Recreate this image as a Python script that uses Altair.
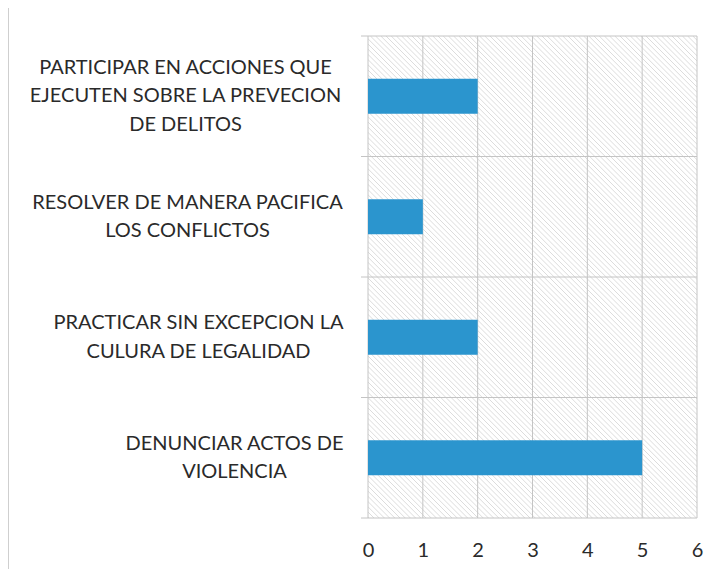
import json
import altair as alt
import pandas as pd

# ---- data ----
label_lines = [
    ["PARTICIPAR EN ACCIONES QUE", "EJECUTEN SOBRE LA PREVECION", "DE DELITOS"],
    ["RESOLVER DE MANERA PACIFICA", "LOS CONFLICTOS"],
    ["PRACTICAR SIN EXCEPCION LA", "CULURA DE LEGALIDAD"],
    ["DENUNCIAR ACTOS DE", "VIOLENCIA"],
]
values = [2, 1, 2, 5]
x_ticks = [0, 1, 2, 3, 4, 5, 6]

categories = ["\n".join(l) for l in label_lines]
df = pd.DataFrame({"cat": categories, "val": values})
ticks_df = pd.DataFrame({"t": x_ticks})

# ---- layout / style ----
W, H = 329, 482
PAD_L, PAD_T, PAD_R, PAD_B = 360, 28, 14, 51
FONT = "Lato"
FS = 20
LH = 28.5
TXT = "#2a2a2a"
GRID = "#c4c4c4"
HATCH = "#d3d3d3"
BAR = "#2B95CE"

# distance from axis to the centre of each label block
label_centre = [183, 181, 170, 134]

xscale = alt.Scale(domain=[0, 6], nice=False, zero=True)
yscale = alt.Scale(paddingInner=0, paddingOuter=0)

label_padding = {
    "condition": [
        {"test": f"datum.value == {json.dumps(c)}", "value": d}
        for c, d in zip(categories, label_centre)
    ],
    "value": 150,
}
label_offset = {
    "condition": [
        {"test": f"datum.value == {json.dumps(c)}", "value": -(len(l) - 1) * LH / 2}
        for c, l in zip(categories, label_lines)
    ],
    "value": 0,
}

y_axis = alt.Axis(
    title=None,
    domain=False,
    ticks=False,
    tickSize=0,
    grid=False,
    labelFont=FONT,
    labelFontSize=FS,
    labelColor=TXT,
    labelAlign="center",
    labelBaseline="middle",
    labelLineHeight=LH,
    labelLimit=0,
    labelPadding=label_padding,
    labelOffset=label_offset,
    labelExpr="split(datum.label, '\\n')",
)

x_axis = alt.Axis(
    title=None,
    values=x_ticks,
    domain=False,
    ticks=False,
    tickSize=0,
    grid=False,
    labelFont=FONT,
    labelFontSize=FS,
    labelColor=TXT,
    labelPadding=22,
    labelFlush=False,
)

unit = 6 / W  # data units per pixel
step = 5.2 * unit

hatch = (
    alt.Chart(alt.sequence(start=-(H + 20) * unit, stop=6 + 20 * unit, step=step, as_="h"))
    .transform_calculate(h2=f"datum.h + {H * unit}")
    .mark_rule(color=HATCH, strokeWidth=0.8, clip=True)
    .encode(
        x=alt.X("h:Q", scale=xscale, axis=x_axis),
        x2="h2:Q",
        y=alt.value(0),
        y2=alt.value(H),
    )
)

vgrid = (
    alt.Chart(ticks_df)
    .mark_rule(color=GRID, strokeWidth=1)
    .encode(
        x=alt.X("t:Q", scale=xscale, axis=x_axis),
        y=alt.value(0),
        y2=alt.value(H),
    )
)

hsep = (
    alt.Chart(df)
    .mark_rule(color=GRID, strokeWidth=1)
    .encode(
        y=alt.Y("cat:N", sort=categories, scale=yscale, bandPosition=0, axis=y_axis),
        x=alt.value(-7),
        x2=alt.value(W),
    )
)

bottom = (
    alt.Chart(pd.DataFrame({"a": [0]}))
    .mark_rule(color=GRID, strokeWidth=1)
    .encode(y=alt.value(H), x=alt.value(-7), x2=alt.value(W))
)

# thin frame line on the left edge of the chart area
frame = (
    alt.Chart(pd.DataFrame({"a": [0]}))
    .mark_rule(color="#cfcfcf", strokeWidth=1)
    .encode(x=alt.value(-PAD_L + 0.5), y=alt.value(-PAD_T), y2=alt.value(H + PAD_B))
)

bars = (
    alt.Chart(df)
    .mark_bar(color=BAR, height={"band": 0.29})
    .encode(
        x=alt.X("val:Q", scale=xscale, axis=x_axis),
        y=alt.Y("cat:N", sort=categories, scale=yscale, axis=y_axis),
    )
)

chart = (
    alt.layer(hatch, vgrid, hsep, bottom, frame, bars)
    .properties(
        width=W,
        height=H,
        autosize=alt.AutoSizeParams(type="none"),
        padding={"left": PAD_L, "top": PAD_T, "right": PAD_R, "bottom": PAD_B},
        background="white",
    )
    .configure_view(stroke=None)
)

chart.save("out.html", embed_options={"renderer": "svg", "actions": False})
